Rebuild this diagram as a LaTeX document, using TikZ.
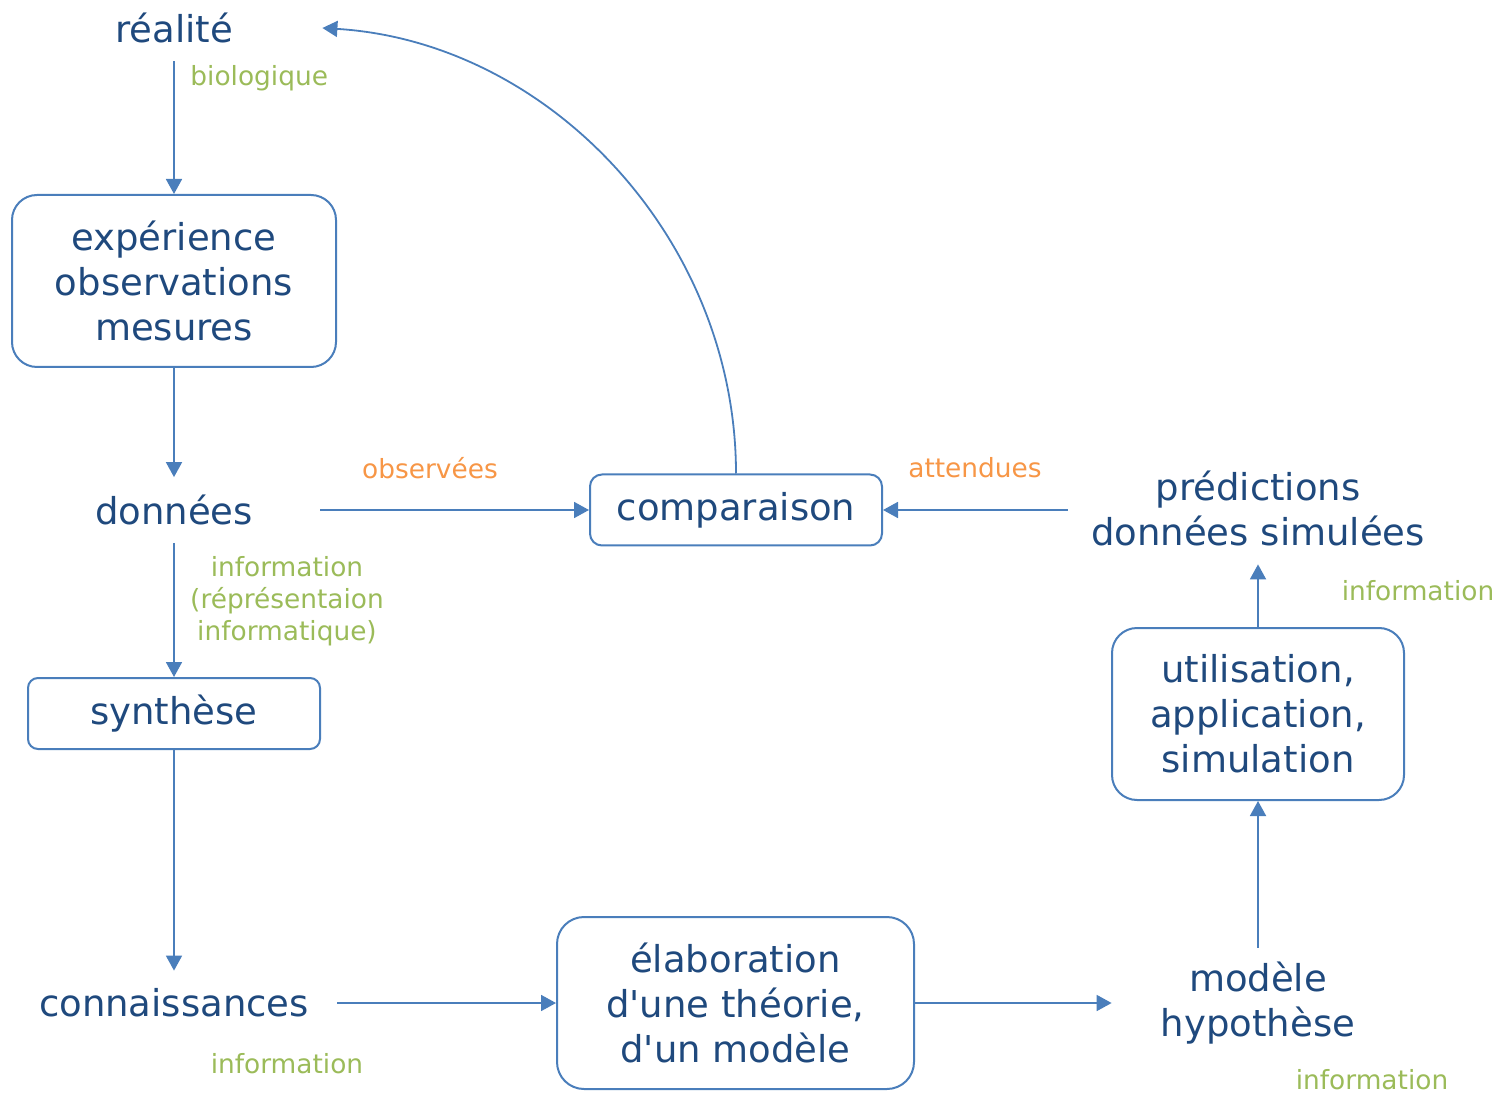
\documentclass[tikz,border=0pt]{standalone}
\usepackage{fontspec}
\setmainfont{DejaVu Sans}
\usetikzlibrary{arrows.meta}
\definecolor{txtblue}{HTML}{1F497D}
\definecolor{lineblue}{HTML}{4A7EBB}
\definecolor{lblgreen}{HTML}{9BBB59}
\definecolor{lblorange}{HTML}{F79646}
\begin{document}
\begin{tikzpicture}[x=0.5pt,y=-0.5pt,
  main/.style={text=txtblue,font=\fontsize{18.5}{22.5}\selectfont,align=center,inner sep=0pt},
  plain/.style={main},
  boxed/.style={main,draw=lineblue,line width=1pt},
  lbl/.style={font=\fontsize{13.2}{16}\selectfont,align=center,inner sep=0pt},
  green/.style={lbl,text=lblgreen},
  orange/.style={lbl,text=lblorange},
  conn/.style={draw=lineblue,line width=0.9pt,-{Triangle[length=7.5pt,width=8pt]}}
]
\useasboundingbox (0,0) rectangle (1497,1095);
% plain text nodes
\node[plain,minimum width=148pt,minimum height=33pt] (real) at (174,28) {réalité};
\node[plain,minimum width=146pt,minimum height=32.5pt] (donn) at (174,510) {données};
\node[plain,minimum width=163pt,minimum height=32pt] (conn) at (174,1003) {connaissances};
\node[plain,minimum width=190pt,minimum height=56pt] (pred) at (1258,508) {prédictions\\données simulées};
\node[plain,minimum width=146pt,minimum height=55pt] (mod) at (1258,1003) {modèle\\hypothèse};
% boxes
\node[boxed,rounded corners=12.5pt,minimum width=162pt,minimum height=86pt] (exp) at (174,281) {expérience\\observations\\mesures};
\node[boxed,rounded corners=6pt,minimum width=146pt,minimum height=35.5pt] (comp) at (736,510) {comparaison};
\node[boxed,rounded corners=12.5pt,minimum width=146pt,minimum height=86pt] (util) at (1258,714) {utilisation,\\application,\\simulation};
\node[boxed,rounded corners=13.5pt,minimum width=178.5pt,minimum height=86pt] (elab) at (735.5,1003) {élaboration\\d\textquotesingle une théorie,\\d\textquotesingle un modèle};
\node[boxed,rounded corners=5pt,minimum width=146pt,minimum height=35.5pt] (synt) at (174,713.5) {synthèse};
% labels
\node[green,anchor=west] (lbio) at (190,78) {biologique};
\node[orange] (lobs) at (430,468) {observées};
\node[orange] (latt) at (975,468) {attendues};
\node[green] (linf1) at (287,601) {information\\(réprésentaion\\informatique)};
\node[green] (linf2) at (1418,591) {information};
\node[green] (linf3) at (287,1064) {information};
\node[green] (linf4) at (1372,1080) {information};
% connectors
\draw[conn] (real.south) -- (exp.north);
\draw[conn] (exp.south) -- (donn.north);
\draw[conn] (donn.east) -- (comp.west);
\draw[conn] (pred.west |- comp.east) -- (comp.east);
\draw[conn] (donn.south) -- (synt.north);
\draw[conn] (synt.south) -- (conn.north);
\draw[conn] (conn.east) -- (elab.west);
\draw[conn] (elab.east) -- (mod.west);
\draw[conn] (mod.north) -- (util.south);
\draw[conn] (util.north) -- (pred.south);
\draw[conn] (comp.north) .. controls (736,240) and (550,42) .. (real.east);
\end{tikzpicture}
\end{document}
